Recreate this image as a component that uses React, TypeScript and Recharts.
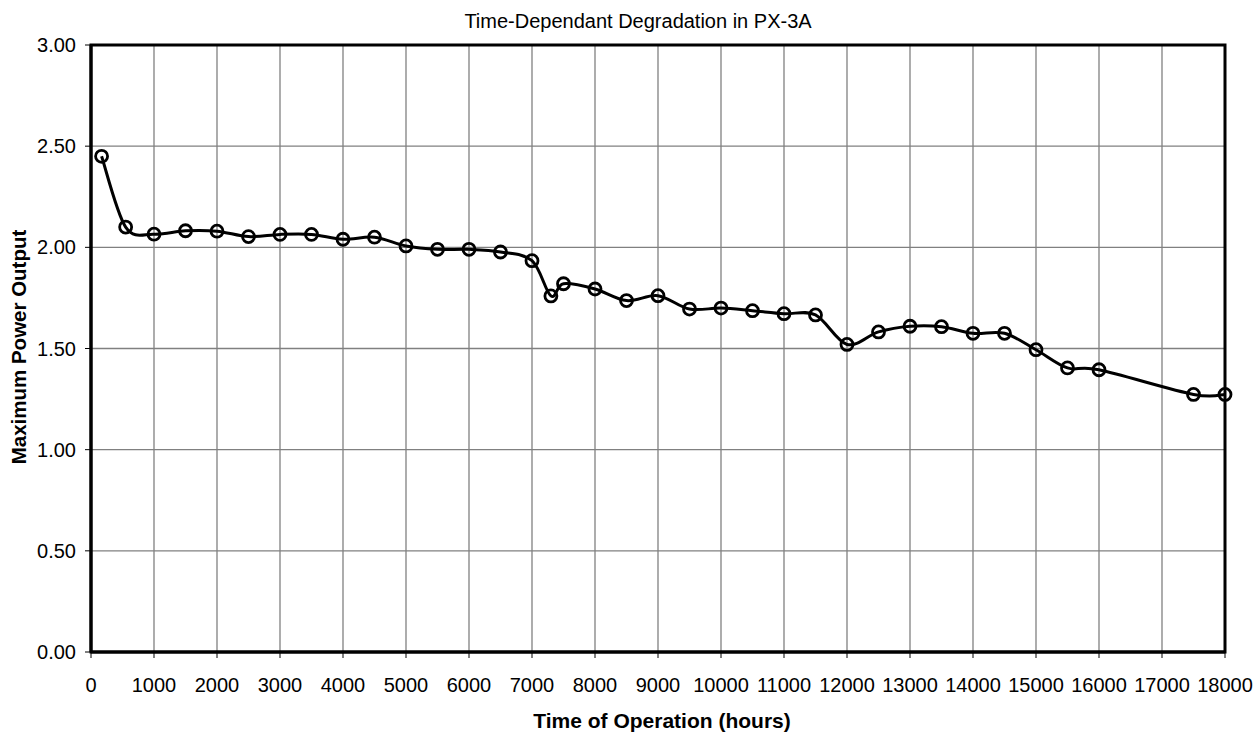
import { LineChart, Line, XAxis, YAxis, CartesianGrid, ReferenceArea, Label } from "recharts";

// hours of operation and measured max power output
const hours = [
  168, 550, 1000, 1500, 2000, 2500, 3000, 3500, 4000, 4500, 5000, 5500, 6000, 6500,
  7000, 7300, 7500, 8000, 8500, 9000, 9500, 10000, 10500, 11000, 11500, 12000, 12500,
  13000, 13500, 14000, 14500, 15000, 15500, 16000, 17500, 18000,
];
const power = [
  2.45, 2.1, 2.065, 2.082, 2.08, 2.053, 2.064, 2.064, 2.04, 2.05, 2.007, 1.99, 1.99, 1.977,
  1.934, 1.76, 1.82, 1.794, 1.737, 1.761, 1.695, 1.7, 1.687, 1.672, 1.666, 1.52, 1.582,
  1.61, 1.608, 1.575, 1.575, 1.494, 1.404, 1.395, 1.273, 1.273,
];

const xTicks = [
  0, 1000, 2000, 3000, 4000, 5000, 6000, 7000, 8000, 9000, 10000, 11000, 12000, 13000,
  14000, 15000, 16000, 17000, 18000,
];
const yTicks = [0, 0.5, 1, 1.5, 2, 2.5, 3];

const data = hours.map((h, i) => ({ h, p: power[i] }));

const FONT = "'Liberation Sans', Arial, sans-serif";

/* Excel-style smoothed line: bezier through points, controls at 1/6 of neighbour span */
function excelSmooth(context: any) {
  let pts: [number, number][] = [];
  return {
    areaStart() {},
    areaEnd() {},
    lineStart() {
      pts = [];
    },
    lineEnd() {
      const n = pts.length;
      if (!n) return;
      context.moveTo(pts[0][0], pts[0][1]);
      for (let i = 0; i < n - 1; i++) {
        const p0 = pts[Math.max(i - 1, 0)];
        const p1 = pts[i];
        const p2 = pts[i + 1];
        const p3 = pts[Math.min(i + 2, n - 1)];
        context.bezierCurveTo(
          p1[0] + (p2[0] - p0[0]) / 6,
          p1[1] + (p2[1] - p0[1]) / 6,
          p2[0] - (p3[0] - p1[0]) / 6,
          p2[1] - (p3[1] - p1[1]) / 6,
          p2[0],
          p2[1]
        );
      }
    },
    point(x: number, y: number) {
      pts.push([x, y]);
    },
  };
}

export default function App() {
  return (
    <div style={{ position: "absolute", left: 0, top: 0, width: 1255, height: 733, background: "#fff", fontFamily: FONT }}>
      <div
        style={{
          position: "absolute",
          top: 11,
          left: 0,
          width: 1276,
          textAlign: "center",
          fontSize: 20,
          lineHeight: "20px",
          color: "#000",
        }}
      >
        Time-Dependant Degradation in PX-3A
      </div>
      <LineChart width={1255} height={733} data={data} margin={{ top: 45, right: 30, bottom: 21, left: 0 }}>
        <CartesianGrid stroke="#808080" strokeWidth={1.3} />
        <XAxis
          type="number"
          dataKey="h"
          domain={[0, 18000]}
          ticks={xTicks}
          interval={0}
          height={60}
          axisLine={{ stroke: "#000", strokeWidth: 3 }}
          tickLine={{ stroke: "#000", strokeWidth: 1 }}
          tickSize={6}
          tickMargin={20}
          tick={{ fill: "#000", fontSize: 20, fontFamily: FONT }}
        >
          <Label
            content={() => (
              <text x={662} y={728} textAnchor="middle" fontSize={21} fontWeight="bold" fontFamily={FONT} fill="#000">
                Time of Operation (hours)
              </text>
            )}
          />
        </XAxis>
        <YAxis
          type="number"
          domain={[0, 3]}
          ticks={yTicks}
          interval={0}
          width={91}
          axisLine={{ stroke: "#000", strokeWidth: 3 }}
          tickLine={{ stroke: "#000", strokeWidth: 1 }}
          tickSize={6}
          tickMargin={9}
          tickFormatter={(v) => Number(v).toFixed(2)}
          tick={{ fill: "#000", fontSize: 20, fontFamily: FONT }}
        >
          <Label
            content={() => (
              <text
                x={26}
                y={347}
                transform="rotate(-90 26 347)"
                textAnchor="middle"
                fontSize={20.5}
                fontWeight="bold"
                fontFamily={FONT}
                fill="#000"
              >
                Maximum Power Output
              </text>
            )}
          />
        </YAxis>
        <ReferenceArea x1={0} x2={18000} y1={0} y2={3} stroke="#000" strokeWidth={3} fill="none" fillOpacity={0} />
        <Line
          dataKey="p"
          type={excelSmooth as any}
          stroke="#000"
          strokeWidth={3}
          dot={{ r: 6, stroke: "#000", strokeWidth: 2.8, fill: "none" }}
          activeDot={false}
          isAnimationActive={false}
        />
      </LineChart>
    </div>
  );
}
